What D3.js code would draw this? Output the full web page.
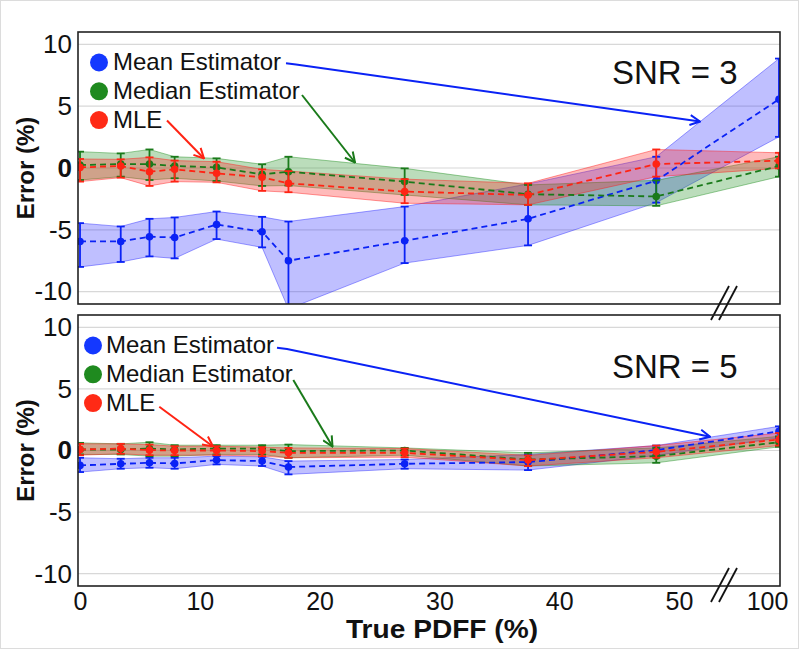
<!DOCTYPE html>
<html>
<head>
<meta charset="utf-8">
<script src="https://cdn.jsdelivr.net/npm/d3@7/dist/d3.min.js"></script>
<style>
  html, body { margin: 0; padding: 0; background: #fff; }
  svg { display: block; font-family: "Liberation Sans", Arial, sans-serif; }
</style>
</head>
<body>
<svg id="chart" width="800" height="650"></svg>
<script>
// ---------------- DATA ----------------
const pdff = [0, 3.4, 5.8, 7.9, 11.4, 15.2, 17.4, 27.1, 37.4, 48.1, 100];
const xTicks = [0, 10, 20, 30, 40, 50, 100];
const yTicks = [-10, -5, 0, 5, 10];
const seriesNames = ["Mean Estimator", "Median Estimator", "MLE"];
const snrLabels = ["SNR = 3", "SNR = 5"];

// SNR = 3
const snr3MeanMid  = [-5.94, -5.94, -5.56, -5.62, -4.57, -5.16, -7.5, -5.89, -4.11, -1.02, 5.56];
const snr3MeanHigh = [-4.46, -4.73, -4.11, -4.0, -3.52, -3.95, -4.33, -3.12, -1.29, 0.91, 8.85];
const snr3MeanLow  = [-8.0, -7.6, -7.15, -7.31, -5.75, -6.42, -11.4, -7.69, -6.26, -2.8, 2.52];

const snr3MedMid   = [0.24, 0.32, 0.32, 0.16, 0.05, -0.51, -0.3, -1.1, -2.12, -2.3, 0.16];
const snr3MedHigh  = [1.32, 1.18, 1.5, 0.91, 0.78, 0.3, 0.91, -0.03, -1.37, -1.0, 0.91];
const snr3MedLow   = [-0.97, -0.7, -0.97, -0.83, -1.05, -1.45, -1.42, -2.18, -2.98, -3.06, -0.7];

const snr3MleMid   = [0.05, 0.16, -0.3, -0.11, -0.43, -0.75, -1.24, -1.91, -2.18, 0.32, 0.59];
const snr3MleHigh  = [0.73, 0.7, 0.86, 0.6, 0.51, -0.11, -0.25, -0.9, -1.24, 1.5, 1.23];
const snr3MleLow   = [-1.1, -0.78, -1.45, -1.1, -1.16, -1.85, -1.96, -2.85, -2.98, -0.7, -0.03];

// SNR = 5
const snr5MeanMid  = [-1.21, -1.08, -1.0, -1.05, -0.78, -0.86, -1.34, -1.08, -0.94, 0.03, 1.56];
const snr5MeanHigh = [-0.59, -0.67, -0.59, -0.59, -0.46, -0.51, -0.86, -0.73, -0.32, 0.4, 1.96];
const snr5MeanLow  = [-1.75, -1.48, -1.4, -1.48, -1.13, -1.26, -1.94, -1.48, -1.59, -0.4, 1.02];

const snr5MedMid   = [0.08, 0.08, 0.16, 0.08, 0.16, 0.16, -0.05, 0.0, -0.73, -0.46, 0.67];
const snr5MedHigh  = [0.62, 0.54, 0.67, 0.43, 0.43, 0.43, 0.48, 0.21, -0.19, 0.21, 1.15];
const snr5MedLow   = [-0.32, -0.32, -0.46, -0.46, -0.32, -0.32, -0.59, -0.38, -1.26, -1.0, 0.3];

const snr5MleMid   = [0.08, 0.16, 0.03, 0.0, 0.0, -0.05, -0.19, -0.19, -0.78, -0.11, 0.89];
const snr5MleHigh  = [0.54, 0.54, 0.48, 0.35, 0.35, 0.27, 0.21, 0.16, -0.4, 0.4, 1.42];
const snr5MleLow   = [-0.38, -0.27, -0.38, -0.38, -0.38, -0.46, -0.59, -0.54, -1.26, -0.59, 0.4];

// ---------------- STYLE / LAYOUT ----------------
const lineColors = ["#0a22f5", "#1a7a1a", "#ff2414"];
const fillColors = ["#2a2aff", "#1f8f1f", "#ff1a1a"];
const dotColors  = ["#1438ff", "#1f8a1f", "#ff2a16"];

const plotLeft = 78, plotRight = 780;
const panels = [
  { top: 32, bottom: 304, legendDotX: 99, legendTextX: 113, legendBase: 70,
    series: [[snr3MeanMid, snr3MeanLow, snr3MeanHigh], [snr3MedMid, snr3MedLow, snr3MedHigh], [snr3MleMid, snr3MleLow, snr3MleHigh]],
    snrBase: 84,
    arrows: [ [[286, 63.3], [296, 64.5], [700, 121.5]], [[302, 95], [355, 162.5]], [[167, 120.5], [204, 158.5]] ] },
  { top: 315, bottom: 586, legendDotX: 93, legendTextX: 106, legendBase: 353,
    series: [[snr5MeanMid, snr5MeanLow, snr5MeanHigh], [snr5MedMid, snr5MedLow, snr5MedHigh], [snr5MleMid, snr5MleLow, snr5MleHigh]],
    snrBase: 378,
    arrows: [ [[277, 347.7], [287, 349], [710, 436.7]], [[293.3, 380], [332.5, 446.5]], [[159.3, 406.7], [213, 446.5]] ] }
];

const fmt = d => String(d);   // plain hyphen-minus like the reference

const svg = d3.select("#chart");
svg.append("rect").attr("x", 0.5).attr("y", 0.5).attr("width", 798).attr("height", 648)
  .attr("fill", "#fff").attr("stroke", "#dcdcdc");

const defs = svg.append("defs");
lineColors.forEach((c, i) => {
  defs.append("marker").attr("id", "arr" + i)
    .attr("viewBox", "0 0 12 12").attr("refX", 11).attr("refY", 6)
    .attr("markerWidth", 12).attr("markerHeight", 12)
    .attr("markerUnits", "userSpaceOnUse").attr("orient", "auto")
    .append("path").attr("d", "M1,1 L11,6 L1,11")
    .attr("fill", "none").attr("stroke", c).attr("stroke-width", 2);
});

const x = d3.scaleLinear().domain([0, 50, 100]).range([80, 679, 779]);

panels.forEach((p, pi) => {
  const y = d3.scaleLinear().domain([-11, 11]).range([p.bottom, p.top]);
  const g = svg.append("g");

  defs.append("clipPath").attr("id", "clip" + pi)
    .append("rect").attr("x", plotLeft).attr("y", p.top)
    .attr("width", plotRight - plotLeft).attr("height", p.bottom - p.top);

  // gridlines
  g.append("g").selectAll("line").data(yTicks).join("line")
    .attr("x1", plotLeft).attr("x2", plotRight)
    .attr("y1", d => y(d)).attr("y2", d => y(d))
    .attr("stroke", "#d8d8d8").attr("stroke-width", 1.2);

  const plot = g.append("g").attr("clip-path", `url(#clip${pi})`);

  // bands
  p.series.forEach((s, si) => {
    const [mid, lo, hi] = s;
    const pts = pdff.map((v, i) => ({ x: v, lo: lo[i], hi: hi[i], m: mid[i] }));
    const area = d3.area().x(d => x(d.x)).y0(d => y(d.lo)).y1(d => y(d.hi));
    plot.append("path").datum(pts).attr("d", area)
      .attr("fill", fillColors[si]).attr("fill-opacity", 0.3)
      .attr("stroke", fillColors[si]).attr("stroke-opacity", 0.45).attr("stroke-width", 1);
  });

  // error bars, lines, points
  p.series.forEach((s, si) => {
    const [mid, lo, hi] = s;
    const pts = pdff.map((v, i) => ({ x: v, lo: lo[i], hi: hi[i], m: mid[i] }));
    const c = lineColors[si];
    const eb = plot.append("g").attr("stroke", c).attr("stroke-width", 1.8);
    eb.selectAll("line.v").data(pts).join("line").attr("class", "v")
      .attr("x1", d => x(d.x)).attr("x2", d => x(d.x))
      .attr("y1", d => y(d.lo)).attr("y2", d => y(d.hi));
    eb.selectAll("line.t").data(pts).join("line").attr("class", "t")
      .attr("x1", d => x(d.x) - 4).attr("x2", d => x(d.x) + 4)
      .attr("y1", d => y(d.hi)).attr("y2", d => y(d.hi));
    eb.selectAll("line.b").data(pts).join("line").attr("class", "b")
      .attr("x1", d => x(d.x) - 4).attr("x2", d => x(d.x) + 4)
      .attr("y1", d => y(d.lo)).attr("y2", d => y(d.lo));
    plot.append("path").datum(pts)
      .attr("d", d3.line().x(d => x(d.x)).y(d => y(d.m)))
      .attr("fill", "none").attr("stroke", c).attr("stroke-width", 1.8)
      .attr("stroke-dasharray", "6,4");
    plot.append("g").selectAll("circle").data(pts).join("circle")
      .attr("cx", d => x(d.x)).attr("cy", d => y(d.m)).attr("r", 3.8)
      .attr("fill", c);
  });

  // frame
  g.append("rect").attr("x", plotLeft).attr("y", p.top)
    .attr("width", plotRight - plotLeft).attr("height", p.bottom - p.top)
    .attr("fill", "none").attr("stroke", "#222").attr("stroke-width", 1.6);

  // y axis
  const ya = g.append("g").attr("transform", `translate(${plotLeft},0)`)
    .call(d3.axisLeft(y).tickValues(yTicks).tickSize(0).tickPadding(6).tickFormat(fmt));
  ya.select(".domain").remove();
  ya.selectAll("text").attr("font-size", 26).attr("font-family", "Liberation Sans, Arial, sans-serif")
    .attr("fill", "#111").attr("font-weight", d => d === 0 ? "bold" : "normal");

  // y title
  g.append("text").attr("transform", `translate(34,${(p.top + p.bottom) / 2}) rotate(-90)`)
    .attr("text-anchor", "middle").attr("font-size", 24).attr("font-weight", "bold")
    .attr("fill", "#111").text("Error (%)");

  // SNR label
  g.append("text").attr("x", 612).attr("y", p.snrBase).attr("font-size", 33)
    .attr("fill", "#111").text(snrLabels[pi]);

  // legend
  seriesNames.forEach((name, si) => {
    const base = p.legendBase + si * 28.8;
    g.append("circle").attr("cx", p.legendDotX).attr("cy", base - 7.5).attr("r", 9)
      .attr("fill", dotColors[si]);
    g.append("text").attr("x", p.legendTextX).attr("y", base).attr("font-size", 24)
      .attr("fill", "#111").text(name);
  });

  // annotation arrows
  p.arrows.forEach((a, si) => {
    g.append("path").attr("d", d3.line()(a)).attr("fill", "none")
      .attr("stroke", lineColors[si]).attr("stroke-width", 2)
      .attr("marker-end", `url(#arr${si})`);
  });

  // axis break marks
  const mid = p.bottom;
  [0, 8].forEach(off => {
    g.append("line").attr("x1", 711 + off).attr("y1", mid + 16)
      .attr("x2", 729 + off).attr("y2", mid - 18)
      .attr("stroke", "#111").attr("stroke-width", 1.8);
  });
});

// x axis (bottom panel)
const xa = svg.append("g").attr("transform", `translate(0,${panels[1].bottom})`)
  .call(d3.axisBottom(x).tickValues(xTicks).tickSize(0).tickPadding(6).tickFormat(fmt));
xa.select(".domain").remove();
xa.selectAll("text").attr("font-size", 25).attr("font-family", "Liberation Sans, Arial, sans-serif")
  .attr("fill", "#111")
  .attr("dx", d => d === 100 ? -12 : 0);

svg.append("text").attr("x", 442).attr("y", 638).attr("text-anchor", "middle")
  .attr("font-size", 25).attr("font-weight", "bold").attr("fill", "#111")
  .attr("textLength", 192).attr("lengthAdjust", "spacingAndGlyphs")
  .text("True PDFF (%)");
</script>
</body>
</html>
